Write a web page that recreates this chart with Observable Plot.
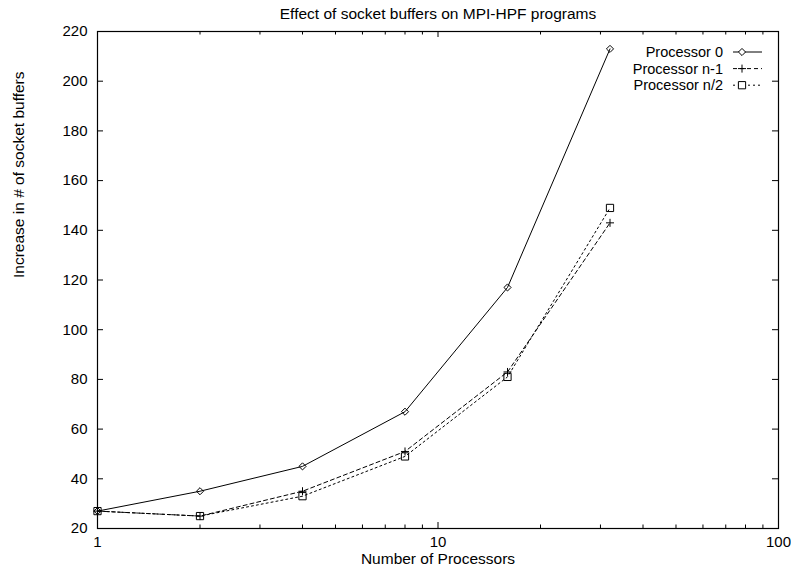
<!DOCTYPE html>
<html>
<head>
<meta charset="utf-8">
<script src="https://cdn.jsdelivr.net/npm/d3@7"></script>
<script src="https://cdn.jsdelivr.net/npm/@observablehq/plot@0.6"></script>
<style>
  html, body { margin: 0; padding: 0; background: #fff; }
</style>
</head>
<body>
<div id="chart"></div>
<script>
// Number of processors used by each run
const processors = [1, 2, 4, 8, 16, 32];

// Increase in the number of socket buffers, per observed processor
const proc0 = [27, 35, 45, 67, 117, 213];
const procLast = [27, 25, 35, 51, 83, 143];
const procHalf = [27, 25, 33, 49, 81, 149];

const seriesNames = ["Processor 0", "Processor n-1", "Processor n/2"];

// Axis ticks
const xMajorTicks = [1, 10, 100];
const xMinorTicks = [2, 3, 4, 5, 6, 7, 8, 9, 20, 30, 40, 50, 60, 70, 80, 90];
const yTicks = [20, 40, 60, 80, 100, 120, 140, 160, 180, 200, 220];

const titleText = "Effect of socket buffers on MPI-HPF programs";
const xLabel = "Number of Processors";
const yLabel = "Increase in # of socket buffers";

const seriesValues = [proc0, procLast, procHalf];
const rows = seriesNames.flatMap((name, s) =>
  processors.map((p, i) => ({series: name, procs: p, value: seriesValues[s][i]}))
);

const W = 791, H = 570;
const mL = 97, mR = 13, mT = 31, mB = 42;
const frameH = H - mT - mB;
const frameW = W - mL - mR;
const major = 6, minor = 3.5;
const FS = 15;
const LABEL_FS = 15.5;

const styles = {
  "Processor 0": {dash: null, symbol: "diamond2", r: 3.2},
  "Processor n-1": {dash: "4,3", symbol: "plus", r: 2.7},
  "Processor n/2": {dash: "2,3", symbol: "square2", r: 4.6}
};

// Key in the upper right corner, drawn in frame coordinates
function key(index, scales, values, dims) {
  const g = d3.create("svg:g").attr("font-size", 14.5).attr("fill", "black");
  const right = dims.width - dims.marginRight;
  const top = dims.marginTop;
  const symbolPath = {
    "diamond2": d3.symbol(d3.symbolDiamond2, Math.PI * 3.2 * 3.2)(),
    "plus": d3.symbol(d3.symbolPlus, Math.PI * 2.7 * 2.7)(),
    "square2": d3.symbol(d3.symbolSquare2, Math.PI * 4.6 * 4.6)()
  };
  seriesNames.forEach((name, i) => {
    const st = styles[name];
    const y = top + 21 + i * 16.6;
    g.append("text")
      .attr("x", right - 55).attr("y", y).attr("dy", "0.35em")
      .attr("text-anchor", "end").text(name);
    g.append("line")
      .attr("x1", right - 45).attr("x2", right - 16)
      .attr("y1", y).attr("y2", y)
      .attr("stroke", "black").attr("stroke-width", 1)
      .attr("stroke-dasharray", st.dash);
    g.append("path")
      .attr("d", symbolPath[st.symbol])
      .attr("transform", `translate(${right - 36},${y})`)
      .attr("fill", "white").attr("stroke", "black").attr("stroke-width", 1);
  });
  return g.node();
}

const seriesMarks = seriesNames.flatMap(name => {
  const st = styles[name];
  const data = rows.filter(d => d.series === name);
  return [
    Plot.line(data, {x: "procs", y: "value", stroke: "black", strokeWidth: 1, strokeDasharray: st.dash}),
    Plot.dot(data, {x: "procs", y: "value", symbol: () => st.symbol, r: st.r, stroke: "black", strokeWidth: 1, fill: "none"})
  ];
});

const chart = Plot.plot({
  width: W,
  height: H,
  marginLeft: mL,
  marginRight: mR,
  marginTop: mT,
  marginBottom: mB,
  style: {fontFamily: "'Liberation Sans', Arial, Helvetica, sans-serif", fontSize: FS + "px", background: "white", color: "black"},
  x: {type: "log", domain: [1, 100]},
  y: {domain: [20, 220]},
  symbol: {type: "identity"},
  marks: [
    // inward ticks on all four sides
    Plot.tickX(xMajorTicks, {x: d => d, insetTop: frameH - major, stroke: "black"}),
    Plot.tickX(xMajorTicks, {x: d => d, insetBottom: frameH - major, stroke: "black"}),
    Plot.tickX(xMinorTicks, {x: d => d, insetTop: frameH - minor, stroke: "black"}),
    Plot.tickX(xMinorTicks, {x: d => d, insetBottom: frameH - minor, stroke: "black"}),
    Plot.tickY(yTicks, {y: d => d, insetRight: frameW - major, stroke: "black"}),
    Plot.tickY(yTicks, {y: d => d, insetLeft: frameW - major, stroke: "black"}),
    Plot.axisX(xMajorTicks, {tickSize: 0, tickPadding: 8, tickFormat: d => String(d), label: null, fontSize: FS}),
    Plot.axisY(yTicks, {tickSize: 0, tickPadding: 10, tickFormat: d => String(d), label: null, fontSize: FS}),
    Plot.frame({stroke: "black", strokeWidth: 1.2}),
    ...seriesMarks,
    Plot.text([titleText], {frameAnchor: "top", lineAnchor: "middle", dy: -17.25, fontSize: LABEL_FS, text: d => d}),
    Plot.text([xLabel], {frameAnchor: "bottom", lineAnchor: "middle", dy: 30.5, fontSize: LABEL_FS, text: d => d}),
    Plot.text([yLabel], {frameAnchor: "left", lineAnchor: "middle", dx: -78.5, dy: -2, rotate: -90, fontSize: LABEL_FS, text: d => d}),
    key
  ]
});

document.getElementById("chart").appendChild(chart);
</script>
</body>
</html>
